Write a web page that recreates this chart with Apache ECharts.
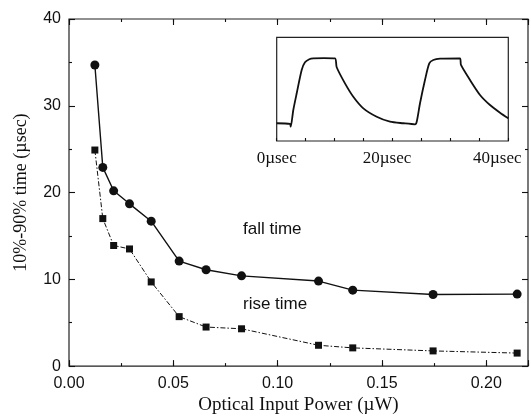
<!DOCTYPE html>
<html><head><meta charset="utf-8">
<script src="https://cdn.jsdelivr.net/npm/echarts@6/dist/echarts.min.js"></script>
<style>html,body{margin:0;padding:0;background:#fff}#c{width:531px;height:420px}</style>
</head><body><div id="c"></div>
<script>
// ---- main chart data ----
const power = [0.0124, 0.0162, 0.0214, 0.0290, 0.0394, 0.0528, 0.0657, 0.0827, 0.1196, 0.1360, 0.1745, 0.2148];
const fallTime = [34.7, 22.9, 20.2, 18.7, 16.7, 12.1, 11.1, 10.4, 9.8, 8.75, 8.25, 8.3];
const riseTime = [24.9, 17.0, 13.9, 13.5, 9.7, 5.7, 4.5, 4.3, 2.4, 2.1, 1.75, 1.5];
const xTickLabels = ['0.00', '0.05', '0.10', '0.15', '0.20'];
const yTickLabels = ['0', '10', '20', '30', '40'];
// ---- inset waveform (time in µsec, signal in % of box height) ----
const insetTime = [0, 2.41, 2.54, 3.01, 3.63, 4.53, 5.13, 5.91, 6.64, 8.58, 10.57, 10.88, 12.38, 13.89, 15.71, 18.14, 20.55, 22.96, 25.08, 25.39, 25.99, 26.89, 27.67, 28.40, 29.62, 33.24, 33.42, 35.06, 36.87, 38.68, 40.50, 42.00];
const insetSignal = [17.1, 16.4, 13.8, 29.9, 46.0, 68.5, 75.9, 78.8, 79.7, 80.0, 79.7, 71.1, 55.6, 42.7, 31.5, 23.4, 18.6, 17.1, 16.1, 18.6, 36.4, 58.8, 74.9, 78.1, 79.4, 79.7, 73.3, 58.8, 44.4, 34.7, 27.3, 21.9];
const insetTickLabels = ['0µsec', '20µsec', '40µsec'];

const ink = '#111';
const sans = 'Liberation Sans, Arial, sans-serif';
const serif = 'Liberation Serif, Times New Roman, serif';
const tickLine = {color: ink, width: 1.1};

const chart = echarts.init(document.getElementById('c'), null, {renderer: 'canvas'});
chart.setOption({
  animation: false,
  backgroundColor: '#fff',
  grid: [
    {left: 69, top: 19, width: 461, height: 351, show: true, borderColor: '#222', borderWidth: 1.2, backgroundColor: 'transparent'},
    {left: 276.7, top: 37.3, width: 231.6, height: 103.7, show: true, borderColor: '#222', borderWidth: 1.2, backgroundColor: 'transparent'}
  ],
  xAxis: [
    {gridIndex: 0, type: 'value', position: 'bottom', min: 0, max: 0.22, interval: 0.05,
     axisLine: {show: false, onZero: false}, splitLine: {show: false},
     axisTick: {inside: true, length: 6, lineStyle: tickLine},
     axisLabel: {margin: 9, color: ink, fontFamily: sans, fontSize: 16,
       formatter: v => { const i = Math.round(v / 0.05); return Math.abs(v - i * 0.05) < 1e-9 ? (xTickLabels[i] || '') : ''; }},
     name: 'Optical Input Power (µW)', nameLocation: 'middle', nameGap: 29,
     nameTextStyle: {color: ink, fontFamily: serif, fontSize: 19}},
    {gridIndex: 0, type: 'value', position: 'bottom', min: 0, max: 0.22, interval: 0.025,
     axisLine: {show: false, onZero: false}, splitLine: {show: false}, axisLabel: {show: false},
     axisTick: {inside: true, length: 3, lineStyle: tickLine}},
    {gridIndex: 0, type: 'value', position: 'top', min: 0, max: 0.22, interval: 0.05,
     axisLine: {show: false, onZero: false}, splitLine: {show: false}, axisLabel: {show: false},
     axisTick: {inside: true, length: 6, lineStyle: tickLine}},
    {gridIndex: 0, type: 'value', position: 'top', min: 0, max: 0.22, interval: 0.025,
     axisLine: {show: false, onZero: false}, splitLine: {show: false}, axisLabel: {show: false},
     axisTick: {inside: true, length: 3, lineStyle: tickLine}},
    {gridIndex: 1, type: 'value', position: 'bottom', min: 0, max: 42, interval: 20,
     axisLine: {show: false, onZero: false}, splitLine: {show: false}, axisTick: {show: false},
     axisLabel: {margin: 9, color: ink, fontFamily: serif, fontSize: 17,
       formatter: v => { const i = Math.round(v / 20); return Math.abs(v - i * 20) < 1e-9 ? (insetTickLabels[i] || '') : ''; }}},
    {gridIndex: 1, type: 'value', position: 'bottom', min: 0, max: 8, interval: 1,
     axisLine: {show: false, onZero: false}, splitLine: {show: false}, axisLabel: {show: false},
     axisTick: {inside: true, length: 3, lineStyle: tickLine}}
  ],
  yAxis: [
    {gridIndex: 0, type: 'value', position: 'left', min: 0, max: 40, interval: 10,
     axisLine: {show: false, onZero: false}, splitLine: {show: false},
     axisTick: {inside: true, length: 6, lineStyle: tickLine},
     minorTick: {show: true, splitNumber: 2, length: 3, lineStyle: tickLine},
     axisLabel: {margin: 8, color: ink, fontFamily: sans, fontSize: 16,
       formatter: v => yTickLabels[Math.round(v / 10)] || ''},
     name: '10%-90% time (µsec)', nameLocation: 'middle', nameGap: 39, nameRotate: 90,
     nameTextStyle: {color: ink, fontFamily: serif, fontSize: 18}},
    {gridIndex: 0, type: 'value', position: 'right', min: 0, max: 40, interval: 10,
     axisLine: {show: false, onZero: false}, splitLine: {show: false}, axisLabel: {show: false},
     axisTick: {inside: true, length: 6, lineStyle: tickLine},
     minorTick: {show: true, splitNumber: 2, length: 3, lineStyle: tickLine}},
    {gridIndex: 1, type: 'value', min: 0, max: 100, show: false}
  ],
  series: [
    {type: 'line', name: 'fall time', xAxisIndex: 0, yAxisIndex: 0,
     data: power.map((p, i) => [p, fallTime[i]]),
     symbol: 'circle', symbolSize: 9, itemStyle: {color: ink},
     lineStyle: {color: ink, width: 1.4}},
    {type: 'line', name: 'rise time', xAxisIndex: 0, yAxisIndex: 0,
     data: power.map((p, i) => [p, riseTime[i]]),
     symbol: 'rect', symbolSize: 7, itemStyle: {color: ink},
     lineStyle: {color: ink, width: 1, type: [5, 2, 1.5, 2]}},
    {type: 'line', name: 'inset', xAxisIndex: 4, yAxisIndex: 2,
     data: insetTime.map((t, i) => [t, insetSignal[i]]),
     showSymbol: false, symbol: 'none', smooth: 0.25,
     lineStyle: {color: ink, width: 1.8}}
  ],
  graphic: [
    {type: 'text', left: 243, top: 221, style: {text: 'fall time', fill: ink, font: '17px ' + sans}},
    {type: 'text', left: 243, top: 296, style: {text: 'rise time', fill: ink, font: '17px ' + sans}}
  ]
});
</script>
</body></html>
